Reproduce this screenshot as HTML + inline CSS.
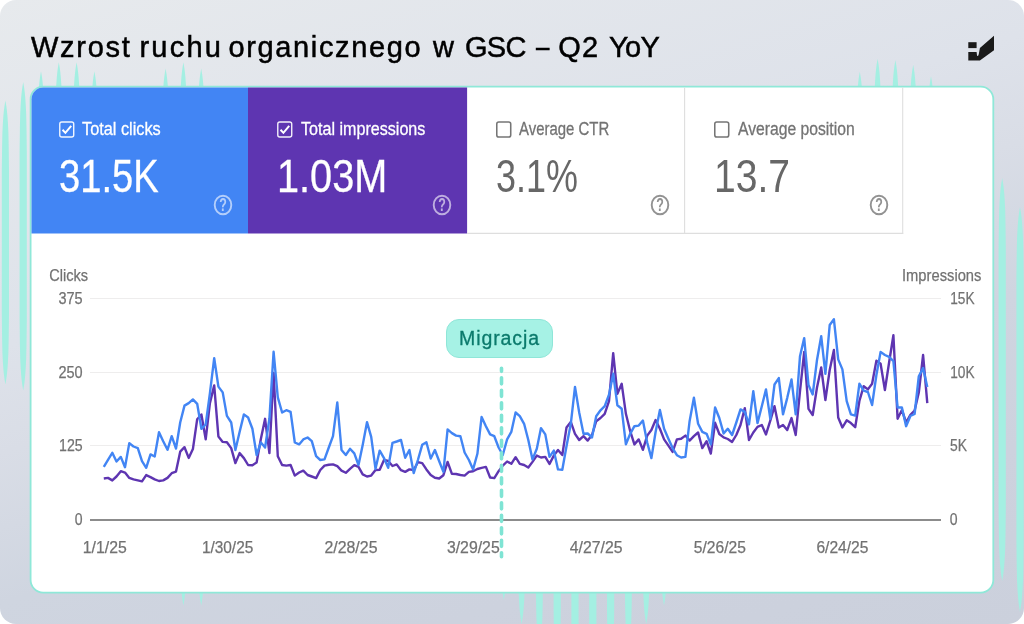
<!DOCTYPE html>
<html lang="pl">
<head>
<meta charset="utf-8">
<title>Wzrost ruchu organicznego w GSC – Q2 YoY</title>
<style>
html,body{margin:0;padding:0;background:#fff;}
body{width:1024px;height:624px;overflow:hidden;position:relative;font-family:"Liberation Sans",sans-serif;}
#page{position:absolute;left:0;top:0;width:1024px;height:624px;border-radius:16px;overflow:hidden;
  background:linear-gradient(163deg,#e7eaed 0%,#dee2ea 37%,#d9dde6 48.4%,#cfd5e0 64.4%,#cdd2de 81%,#cbd0dc 100%);}
#deco{position:absolute;left:0;top:0;width:1024px;height:624px;}
h1{position:absolute;left:0;top:30px;width:700px;height:34px;margin:0;font-weight:400;font-size:29px;line-height:34px;color:#000;white-space:nowrap;-webkit-text-stroke:.5px #000;}
h1 span{position:absolute;top:0;}
#logo{position:absolute;left:960px;top:30px;width:40px;height:36px;}
#card{position:absolute;left:31px;top:87px;width:962px;height:505px;}
.tile{position:absolute;top:0;height:146px;box-sizing:border-box;}
.tile .cb{position:absolute;top:34px;width:15.5px;height:17px;}
.tile .lbl{-webkit-text-stroke:.3px currentColor;position:absolute;top:31px;font-size:18.8px;line-height:22px;white-space:nowrap;transform-origin:0 50%;}
.tile .val{position:absolute;top:61.6px;font-size:46.9px;line-height:54px;white-space:nowrap;transform-origin:0 50%;}
.tile .help{position:absolute;top:105.6px;width:22px;height:24px;}
#t1{left:0;width:217px;color:#fff;}
#t2{left:217px;width:219px;color:#fff;}
#t3{left:436px;width:218px;color:#676767;}
#t4{left:654px;width:218px;color:#676767;}
#t3 .lbl,#t4 .lbl{color:#737373;}
#t1 .val,#t2 .val{-webkit-text-stroke:.3px #fff;}
#chart{position:absolute;left:0;top:0;width:1024px;height:624px;}
#chart text{font-family:"Liberation Sans",sans-serif;}
#mig{position:absolute;left:446px;top:319px;width:105px;height:37px;border:1px solid #8fe6d8;border-radius:13px;background:#a6f2e5;color:#0b7a6c;font-size:19.5px;line-height:37px;text-align:center;letter-spacing:.9px;padding-left:0;box-sizing:content-box;width:105px;-webkit-text-stroke:.3px #0b7a6c;}
</style>
</head>
<body>
<div id="page">
  <svg id="deco" viewBox="0 0 1024 624"><g id="spikes" fill="#a4efe2"><path d="M5.4 100.6L5.9 103.6L6.4 106.6L6.9 110.6L7.4 115.6L7.9 122.6L8.4 132.6L8.7 146.6L9 170.6L9 314.6L8.7 338.6L8.4 352.6L7.9 362.6L7.4 369.6L6.9 374.6L6.4 378.6L5.9 381.6L5.4 384.6L4.9 381.6L4.4 378.6L3.9 374.6L3.4 369.6L2.9 362.6L2.4 352.6L2.1 338.6L1.8 314.6L1.8 170.6L2.1 146.6L2.4 132.6L2.9 122.6L3.4 115.6L3.9 110.6L4.4 106.6L4.9 103.6L5.4 100.6ZM23.2 82L23.7 85L24.2 88L24.7 92L25.2 97L25.7 104L26.2 114L26.5 128L26.8 152L26.8 320.4L26.5 344.4L26.2 358.4L25.7 368.4L25.2 375.4L24.7 380.4L24.2 384.4L23.7 387.4L23.2 390.4L22.7 387.4L22.2 384.4L21.7 380.4L21.2 375.4L20.7 368.4L20.2 358.4L19.9 344.4L19.6 320.4L19.6 152L19.9 128L20.2 114L20.7 104L21.2 97L21.7 92L22.2 88L22.7 85L23.2 82ZM41 71.2L41.5 74.2L42 77.2L42.5 81.2L43 86.2L43.5 93.2L44 103.2L44.3 117.2L44.6 141.2L44.7 300L37.3 300L37.4 141.2L37.7 117.2L38 103.2L38.5 93.2L39 86.2L39.5 81.2L40 77.2L40.5 74.2L41 71.2ZM58.8 62.2L59.3 65.2L59.8 68.2L60.3 72.2L60.8 77.2L61.3 84.2L61.8 94.2L62.1 108.2L62.4 132.2L62.5 300L55.1 300L55.2 132.2L55.5 108.2L55.8 94.2L56.3 84.2L56.8 77.2L57.3 72.2L57.8 68.2L58.3 65.2L58.8 62.2ZM76.6 62.2L77.1 65.2L77.6 68.2L78.1 72.2L78.6 77.2L79.1 84.2L79.6 94.2L79.9 108.2L80.2 132.2L80.3 300L72.9 300L73 132.2L73.3 108.2L73.6 94.2L74.1 84.2L74.6 77.2L75.1 72.2L75.6 68.2L76.1 65.2L76.6 62.2ZM94.4 71.2L94.9 74.2L95.4 77.2L95.9 81.2L96.4 86.2L96.9 93.2L97.4 103.2L97.7 117.2L98 141.2L98.1 300L90.7 300L90.8 141.2L91.1 117.2L91.4 103.2L91.9 93.2L92.4 86.2L92.9 81.2L93.4 77.2L93.9 74.2L94.4 71.2ZM165.6 68.6L166.1 71.6L166.6 74.6L167.1 78.6L167.6 83.6L168.1 90.6L168.6 100.6L168.9 114.6L169.2 138.6L169.2 524.5L168.9 548.5L168.6 562.5L168.1 572.5L167.6 579.5L167.1 584.5L166.6 588.5L166.1 591.5L165.6 594.5L165.1 591.5L164.6 588.5L164.1 584.5L163.6 579.5L163.1 572.5L162.6 562.5L162.3 548.5L162 524.5L162 138.6L162.3 114.6L162.6 100.6L163.1 90.6L163.6 83.6L164.1 78.6L164.6 74.6L165.1 71.6L165.6 68.6ZM183.4 62.2L183.9 65.2L184.4 68.2L184.9 72.2L185.4 77.2L185.9 84.2L186.4 94.2L186.7 108.2L187 132.2L187 535.5L186.7 559.5L186.4 573.5L185.9 583.5L185.4 590.5L184.9 595.5L184.4 599.5L183.9 602.5L183.4 605.5L182.9 602.5L182.4 599.5L181.9 595.5L181.4 590.5L180.9 583.5L180.4 573.5L180.1 559.5L179.8 535.5L179.8 132.2L180.1 108.2L180.4 94.2L180.9 84.2L181.4 77.2L181.9 72.2L182.4 68.2L182.9 65.2L183.4 62.2ZM201.2 68.6L201.7 71.6L202.2 74.6L202.7 78.6L203.2 83.6L203.7 90.6L204.2 100.6L204.5 114.6L204.8 138.6L204.8 535.5L204.5 559.5L204.2 573.5L203.7 583.5L203.2 590.5L202.7 595.5L202.2 599.5L201.7 602.5L201.2 605.5L200.7 602.5L200.2 599.5L199.7 595.5L199.2 590.5L198.7 583.5L198.2 573.5L197.9 559.5L197.6 535.5L197.6 138.6L197.9 114.6L198.2 100.6L198.7 90.6L199.2 83.6L199.7 78.6L200.2 74.6L200.7 71.6L201.2 68.6ZM222.7 300L222.6 524.5L222.3 548.5L222 562.5L221.5 572.5L221 579.5L220.5 584.5L220 588.5L219.5 591.5L219 594.5L218.5 591.5L218 588.5L217.5 584.5L217 579.5L216.5 572.5L216 562.5L215.7 548.5L215.4 524.5L215.3 300ZM507.5 300L507.4 530L507.1 554L506.8 568L506.3 578L505.8 585L505.3 590L504.8 594L504.3 597L503.8 600L503.3 597L502.8 594L502.3 590L501.8 585L501.3 578L500.8 568L500.5 554L500.2 530L500.1 300ZM525.3 300L525.2 554L524.9 578L524.6 592L524.1 602L523.6 609L523.1 614L522.6 618L522.1 621L521.6 624L521.1 621L520.6 618L520.1 614L519.6 609L519.1 602L518.6 592L518.3 578L518 554L517.9 300ZM543.1 300L543 580L542.7 604L542.4 618L541.9 628L541.4 635L540.9 640L540.4 644L539.9 647L539.4 650L538.9 647L538.4 644L537.9 640L537.4 635L536.9 628L536.4 618L536.1 604L535.8 580L535.7 300ZM560.9 300L560.8 610L560.5 634L560.2 648L559.7 658L559.2 665L558.7 670L558.2 674L557.7 677L557.2 680L556.7 677L556.2 674L555.7 670L555.2 665L554.7 658L554.2 648L553.9 634L553.6 610L553.5 300ZM578.7 300L578.6 630L578.3 654L578 668L577.5 678L577 685L576.5 690L576 694L575.5 697L575 700L574.5 697L574 694L573.5 690L573 685L572.5 678L572 668L571.7 654L571.4 630L571.3 300ZM596.5 300L596.4 630L596.1 654L595.8 668L595.3 678L594.8 685L594.3 690L593.8 694L593.3 697L592.8 700L592.3 697L591.8 694L591.3 690L590.8 685L590.3 678L589.8 668L589.5 654L589.2 630L589.1 300ZM614.3 300L614.2 610L613.9 634L613.6 648L613.1 658L612.6 665L612.1 670L611.6 674L611.1 677L610.6 680L610.1 677L609.6 674L609.1 670L608.6 665L608.1 658L607.6 648L607.3 634L607 610L606.9 300ZM632.1 300L632 580L631.7 604L631.4 618L630.9 628L630.4 635L629.9 640L629.4 644L628.9 647L628.4 650L627.9 647L627.4 644L626.9 640L626.4 635L625.9 628L625.4 618L625.1 604L624.8 580L624.7 300ZM649.9 300L649.8 554L649.5 578L649.2 592L648.7 602L648.2 609L647.7 614L647.2 618L646.7 621L646.2 624L645.7 621L645.2 618L644.7 614L644.2 609L643.7 602L643.2 592L642.9 578L642.6 554L642.5 300ZM667.7 300L667.6 535.5L667.3 559.5L667 573.5L666.5 583.5L666 590.5L665.5 595.5L665 599.5L664.5 602.5L664 605.5L663.5 602.5L663 599.5L662.5 595.5L662 590.5L661.5 583.5L661 573.5L660.7 559.5L660.4 535.5L660.3 300ZM859.8 71.8L860.3 74.8L860.8 77.8L861.3 81.8L861.8 86.8L862.3 93.8L862.8 103.8L863.1 117.8L863.4 141.8L863.5 300L856.1 300L856.2 141.8L856.5 117.8L856.8 103.8L857.3 93.8L857.8 86.8L858.3 81.8L858.8 77.8L859.3 74.8L859.8 71.8ZM877.6 58.7L878.1 61.7L878.6 64.7L879.1 68.7L879.6 73.7L880.1 80.7L880.6 90.7L880.9 104.7L881.2 128.7L881.3 300L873.9 300L874 128.7L874.3 104.7L874.6 90.7L875.1 80.7L875.6 73.7L876.1 68.7L876.6 64.7L877.1 61.7L877.6 58.7ZM895.4 60L895.9 63L896.4 66L896.9 70L897.4 75L897.9 82L898.4 92L898.7 106L899 130L899.1 300L891.7 300L891.8 130L892.1 106L892.4 92L892.9 82L893.4 75L893.9 70L894.4 66L894.9 63L895.4 60ZM913.2 64.7L913.7 67.7L914.2 70.7L914.7 74.7L915.2 79.7L915.7 86.7L916.2 96.7L916.5 110.7L916.8 134.7L916.9 300L909.5 300L909.6 134.7L909.9 110.7L910.2 96.7L910.7 86.7L911.2 79.7L911.7 74.7L912.2 70.7L912.7 67.7L913.2 64.7ZM931 76.3L931.5 79.3L932 82.3L932.5 86.3L933 91.3L933.5 98.3L934 108.3L934.3 122.3L934.6 146.3L934.7 300L927.3 300L927.4 146.3L927.7 122.3L928 108.3L928.5 98.3L929 91.3L929.5 86.3L930 82.3L930.5 79.3L931 76.3ZM1002.2 178L1002.7 181L1003.2 184L1003.7 188L1004.2 193L1004.7 200L1005.2 210L1005.5 224L1005.8 248L1005.8 511L1005.5 535L1005.2 549L1004.7 559L1004.2 566L1003.7 571L1003.2 575L1002.7 578L1002.2 581L1001.7 578L1001.2 575L1000.7 571L1000.2 566L999.7 559L999.2 549L998.9 535L998.6 511L998.6 248L998.9 224L999.2 210L999.7 200L1000.2 193L1000.7 188L1001.2 184L1001.7 181L1002.2 178ZM1020 207L1020.5 210L1021 213L1021.5 217L1022 222L1022.5 229L1023 239L1023.3 253L1023.6 277L1023.6 542L1023.3 566L1023 580L1022.5 590L1022 597L1021.5 602L1021 606L1020.5 609L1020 612L1019.5 609L1019 606L1018.5 602L1018 597L1017.5 590L1017 580L1016.7 566L1016.4 542L1016.4 277L1016.7 253L1017 239L1017.5 229L1018 222L1018.5 217L1019 213L1019.5 210L1020 207Z"/></g>
    <rect x="30.6" y="86.6" width="962.7" height="506.05" rx="12.6" fill="#fff" stroke="#8fe8d8" stroke-width="1.8"/>
    <path d="M31.5 233.5V99.2A11.7 11.7 0 0 1 43.2 87.5H248V233.5Z" fill="#4285f4"/>
    <rect x="248" y="87.5" width="219.1" height="146" fill="#5e35b1"/>
    <g fill="none" stroke="#dedede" stroke-width="1.1">
      <path d="M467.1 233.4H903.2"/>
      <path d="M684.6 87.5V233.9"/>
      <path d="M902.7 87.5V233.9"/>
    </g>
  </svg>
  <h1><span style="left:31.0px;letter-spacing:1.70px;">Wzrost</span> <span style="left:139.4px;letter-spacing:2.25px;">ruchu</span> <span style="left:228.6px;letter-spacing:1.62px;">organicznego</span> <span style="left:433.0px;letter-spacing:0.00px;">w</span> <span style="left:465.0px;letter-spacing:-0.75px;">GSC</span> <span style="left:536.0px;letter-spacing:0.00px;transform:scaleX(.83);transform-origin:0 50%;">–</span> <span style="left:558.2px;letter-spacing:1.20px;">Q2</span> <span style="left:608.9px;letter-spacing:-0.60px;">YoY</span></h1>
  <svg id="logo" viewBox="960 30 40 36">
    <rect x="968.3" y="42.2" width="8.3" height="5.9" fill="#1a1a1a"/>
    <path d="M968.3 52.1H976.6L977 55.2Q978 57.5 978.8 54L979.9 48.1L994 35.7V50.3L979.9 60.5H968.3Z" fill="#1a1a1a"/>
  </svg>
  <div id="card">
    <div class="tile" id="t1">
      <svg class="cb" style="left:28px" viewBox="0 0 15 16"><rect x="0.75" y="0.75" width="13.5" height="14.5" rx="2" fill="none" stroke="#fff" stroke-opacity=".92" stroke-width="1.35"/><path d="M3.4 8.2L6.2 11.2L11.8 4.4" fill="none" stroke="#fff" stroke-width="1.9"/></svg>
      <span class="lbl" style="left:51px;transform:scaleX(.867)">Total clicks</span>
      <span class="val" style="left:28px;transform:scaleX(.813)">31.5K</span>
      <svg class="help" style="left:180.6px" viewBox="0 0 22 24"><ellipse cx="11" cy="12" rx="8.3" ry="9.3" fill="none" stroke="#fff" stroke-opacity=".6" stroke-width="1.9"/><text x="11" y="18.2" text-anchor="middle" font-size="18" font-weight="700" fill="#fff" fill-opacity=".6" font-family="Liberation Sans, sans-serif" textLength="7.6" lengthAdjust="spacingAndGlyphs">?</text></svg>
    </div>
    <div class="tile" id="t2">
      <svg class="cb" style="left:29px" viewBox="0 0 15 16"><rect x="0.75" y="0.75" width="13.5" height="14.5" rx="2" fill="none" stroke="#fff" stroke-opacity=".92" stroke-width="1.35"/><path d="M3.4 8.2L6.2 11.2L11.8 4.4" fill="none" stroke="#fff" stroke-width="1.9"/></svg>
      <span class="lbl" style="left:53px;transform:scaleX(.857)">Total impressions</span>
      <span class="val" style="left:29px;transform:scaleX(.846)">1.03M</span>
      <svg class="help" style="left:182.5px" viewBox="0 0 22 24"><ellipse cx="11" cy="12" rx="8.3" ry="9.3" fill="none" stroke="#fff" stroke-opacity=".6" stroke-width="1.9"/><text x="11" y="18.2" text-anchor="middle" font-size="18" font-weight="700" fill="#fff" fill-opacity=".6" font-family="Liberation Sans, sans-serif" textLength="7.6" lengthAdjust="spacingAndGlyphs">?</text></svg>
    </div>
    <div class="tile" id="t3">
      <svg class="cb" style="left:29px" viewBox="0 0 15 16"><rect x="0.75" y="0.75" width="13.5" height="14.5" rx="2" fill="none" stroke="#757575" stroke-width="1.5"/></svg>
      <span class="lbl" style="left:52px;transform:scaleX(.795)">Average CTR</span>
      <span class="val" style="left:29px;transform:scaleX(.767)">3.1%</span>
      <svg class="help" style="left:182.0px" viewBox="0 0 22 24"><ellipse cx="11" cy="12" rx="8.3" ry="9.3" fill="none" stroke="#929292" stroke-opacity="1" stroke-width="1.9"/><text x="11" y="18.2" text-anchor="middle" font-size="18" font-weight="700" fill="#929292" fill-opacity="1" font-family="Liberation Sans, sans-serif" textLength="7.6" lengthAdjust="spacingAndGlyphs">?</text></svg>
    </div>
    <div class="tile" id="t4">
      <svg class="cb" style="left:29px" viewBox="0 0 15 16"><rect x="0.75" y="0.75" width="13.5" height="14.5" rx="2" fill="none" stroke="#757575" stroke-width="1.5"/></svg>
      <span class="lbl" style="left:53px;transform:scaleX(.836)">Average position</span>
      <span class="val" style="left:29px;transform:scaleX(.833)">13.7</span>
      <svg class="help" style="left:182.5px" viewBox="0 0 22 24"><ellipse cx="11" cy="12" rx="8.3" ry="9.3" fill="none" stroke="#929292" stroke-opacity="1" stroke-width="1.9"/><text x="11" y="18.2" text-anchor="middle" font-size="18" font-weight="700" fill="#929292" fill-opacity="1" font-family="Liberation Sans, sans-serif" textLength="7.6" lengthAdjust="spacingAndGlyphs">?</text></svg>
    </div>
  </div>
  <svg id="chart" viewBox="0 0 1024 624">
    <g stroke="#eeeded" stroke-width="1">
      <line x1="90" y1="298.5" x2="941" y2="298.5"/>
      <line x1="90" y1="372.5" x2="941" y2="372.5"/>
      <line x1="90" y1="445.5" x2="941" y2="445.5"/>
    </g>
    <line x1="90" y1="520" x2="941" y2="520" stroke="#8c8c8c" stroke-width="2"/>
    <g fill="#727272" stroke="#727272" stroke-width=".25" font-size="17">
      <text x="49.2" y="281" textLength="38.9" lengthAdjust="spacingAndGlyphs">Clicks</text>
      <text x="58.4" y="303.9" textLength="24.2" lengthAdjust="spacingAndGlyphs">375</text>
      <text x="58.4" y="377.7" textLength="24.2" lengthAdjust="spacingAndGlyphs">250</text>
      <text x="59.1" y="451.2" textLength="23.6" lengthAdjust="spacingAndGlyphs">125</text>
      <text x="74.8" y="525.2" textLength="7.8" lengthAdjust="spacingAndGlyphs">0</text>
      <text x="902" y="281" textLength="79.4" lengthAdjust="spacingAndGlyphs">Impressions</text>
      <text x="950.2" y="303.9" textLength="24.4" lengthAdjust="spacingAndGlyphs">15K</text>
      <text x="950.2" y="377.7" textLength="24.4" lengthAdjust="spacingAndGlyphs">10K</text>
      <text x="950" y="451.2" textLength="17" lengthAdjust="spacingAndGlyphs">5K</text>
      <text x="949.8" y="525.2" textLength="7.8" lengthAdjust="spacingAndGlyphs">0</text>
      <text x="82.8" y="553.4" textLength="43.9" lengthAdjust="spacingAndGlyphs">1/1/25</text>
      <text x="201.9" y="553.4" textLength="51.4" lengthAdjust="spacingAndGlyphs">1/30/25</text>
      <text x="324.4" y="553.4" textLength="53.1" lengthAdjust="spacingAndGlyphs">2/28/25</text>
      <text x="446.9" y="553.4" textLength="52.8" lengthAdjust="spacingAndGlyphs">3/29/25</text>
      <text x="569.8" y="553.4" textLength="52.7" lengthAdjust="spacingAndGlyphs">4/27/25</text>
      <text x="693.8" y="553.4" textLength="52.1" lengthAdjust="spacingAndGlyphs">5/26/25</text>
      <text x="816.4" y="553.4" textLength="52.1" lengthAdjust="spacingAndGlyphs">6/24/25</text>
    </g>
    <polyline id="imp" fill="none" stroke="#5e35b1" stroke-width="2.4" stroke-linejoin="round" points="103.8,478.5 108.0,477.9 112.3,480.4 116.5,476.5 120.8,471.2 125.0,472.6 129.3,477.9 133.5,479.4 137.8,480.4 142.0,481.4 146.2,475.1 150.5,477.1 154.7,479.4 159.0,481.0 163.2,480.4 167.5,477.9 171.7,473.2 176.0,471.6 180.2,451.7 184.5,447.2 188.7,457.9 192.9,449.1 197.2,419.2 201.4,414.5 205.7,439.4 209.9,403.2 214.2,385.4 218.4,436.4 222.7,441.9 226.9,442.3 231.2,448.1 235.4,463.1 239.6,453.1 243.9,458.1 248.1,465.0 252.4,465.2 256.6,462.5 260.9,438.8 265.1,418.8 269.4,453.1 273.6,373.0 277.8,456.2 282.1,465.0 286.3,465.6 290.6,465.0 294.8,475.6 299.1,472.5 303.3,470.6 307.6,475.0 311.8,476.5 316.1,478.1 320.3,470.0 324.5,465.6 328.8,464.8 333.0,464.4 337.3,466.2 341.5,470.6 345.8,472.8 350.0,468.8 354.3,465.1 358.5,466.9 362.7,474.4 367.0,476.5 371.2,475.6 375.5,470.0 379.7,469.8 384.0,460.0 388.2,461.0 392.5,466.0 396.7,464.4 401.0,470.2 405.2,471.9 409.4,469.4 413.7,470.0 417.9,462.2 422.2,463.1 426.4,469.4 430.7,475.0 434.9,477.8 439.2,478.5 443.4,475.2 447.6,461.9 451.9,473.8 456.1,474.0 460.4,475.0 464.6,475.6 468.9,471.9 473.1,471.2 477.4,469.0 481.6,467.8 485.9,466.9 490.1,477.5 494.3,478.1 498.6,471.2 502.8,465.6 507.1,461.5 511.3,463.8 515.6,457.2 519.8,463.8 524.1,465.0 528.3,467.5 532.5,461.9 536.8,455.6 541.0,457.5 545.3,456.9 549.5,464.0 553.8,455.6 558.0,450.0 562.3,455.0 566.5,427.5 570.8,421.9 575.0,433.8 579.2,440.0 583.5,436.2 587.7,440.6 592.0,435.0 596.2,421.2 600.5,418.0 604.7,413.8 609.0,401.2 613.2,353.2 617.4,393.8 621.7,383.8 625.9,413.8 630.2,431.2 634.4,444.4 638.7,439.4 642.9,449.8 647.2,435.6 651.4,430.0 655.6,420.0 659.9,428.8 664.1,439.4 668.4,445.6 672.6,451.9 676.9,439.4 681.1,438.8 685.4,435.6 689.6,440.6 693.9,436.2 698.1,432.5 702.3,448.1 706.6,441.2 710.8,453.5 715.1,422.8 719.3,434.0 723.6,437.4 727.8,439.0 732.1,441.9 736.3,435.0 740.5,425.0 744.8,408.1 749.0,440.0 753.3,432.5 757.5,426.9 761.8,425.0 766.0,434.4 770.3,420.6 774.5,406.2 778.8,427.5 783.0,425.0 787.2,430.0 791.5,418.1 795.7,435.0 800.0,391.2 804.2,352.0 808.5,408.8 812.7,415.0 817.0,387.5 821.2,367.5 825.4,400.0 829.7,370.0 833.9,350.0 838.2,417.5 842.4,427.5 846.7,420.3 850.9,423.1 855.2,427.2 859.4,401.0 863.7,386.2 867.9,389.4 872.1,383.8 876.4,360.6 880.6,363.8 884.9,390.0 889.1,362.5 893.4,335.3 897.6,418.8 901.9,410.0 906.1,422.5 910.4,414.8 914.6,410.6 918.8,392.5 923.1,355.0 927.3,403.1"/>
    <polyline id="clk" fill="none" stroke="#4285f4" stroke-width="2.4" stroke-linejoin="round" points="103.8,466.9 108.0,459.8 112.3,452.8 116.5,461.5 120.8,456.9 125.0,467.2 129.3,443.1 133.5,446.5 137.8,448.1 142.0,461.2 146.2,467.8 150.5,454.4 154.7,456.5 159.0,432.2 163.2,441.2 167.5,449.8 171.7,436.2 176.0,448.5 180.2,422.5 184.5,405.6 188.7,403.1 192.9,399.4 197.2,403.8 201.4,428.8 205.7,424.5 209.9,393.4 214.2,358.2 218.4,386.6 222.7,392.4 226.9,415.9 231.2,422.5 235.4,450.0 239.6,431.9 243.9,414.4 248.1,417.5 252.4,428.8 256.6,455.0 260.9,442.5 265.1,447.5 269.4,418.8 273.6,351.8 277.8,397.3 282.1,412.5 286.3,410.2 290.6,411.9 294.8,442.5 299.1,444.4 303.3,439.4 307.6,437.5 311.8,441.2 316.1,456.2 320.3,460.0 324.5,459.4 328.8,447.5 333.0,436.2 337.3,402.5 341.5,450.0 345.8,455.0 350.0,448.8 354.3,453.4 358.5,465.0 362.7,445.0 367.0,422.2 371.2,436.9 375.5,468.8 379.7,450.6 384.0,458.1 388.2,467.8 392.5,442.8 396.7,441.5 401.0,440.0 405.2,457.8 409.4,450.0 413.7,473.1 417.9,460.0 422.2,444.8 426.4,442.2 430.7,458.5 434.9,450.0 439.2,461.2 443.4,471.9 447.6,429.4 451.9,433.1 456.1,435.6 460.4,436.2 464.6,452.5 468.9,460.0 473.1,469.4 477.4,453.8 481.6,416.9 485.9,426.2 490.1,434.4 494.3,436.2 498.6,447.5 502.8,455.0 507.1,439.4 511.3,431.9 515.6,412.5 519.8,416.2 524.1,423.8 528.3,440.0 532.5,459.4 536.8,448.8 541.0,428.1 545.3,434.4 549.5,456.9 553.8,450.6 558.0,469.4 562.3,469.8 566.5,446.2 570.8,423.8 575.0,386.9 579.2,412.5 583.5,433.8 587.7,433.5 592.0,437.5 596.2,416.2 600.5,410.3 604.7,406.2 609.0,394.7 613.2,373.8 617.4,405.3 621.7,408.8 625.9,444.4 630.2,433.8 634.4,426.2 638.7,425.6 642.9,420.6 647.2,442.5 651.4,458.1 655.6,432.0 659.9,410.0 664.1,428.8 668.4,438.8 672.6,448.1 676.9,455.2 681.1,457.5 685.4,456.9 689.6,421.2 693.9,397.8 698.1,423.8 702.3,431.9 706.6,433.8 710.8,444.4 715.1,407.5 719.3,418.0 723.6,433.4 727.8,428.8 732.1,435.0 736.3,422.5 740.5,409.4 744.8,411.9 749.0,424.4 753.3,391.2 757.5,423.1 761.8,406.2 766.0,389.4 770.3,418.8 774.5,384.5 778.8,378.1 783.0,414.4 787.2,398.1 791.5,379.4 795.7,414.4 800.0,356.2 804.2,338.1 808.5,385.0 812.7,394.4 817.0,360.0 821.2,336.2 825.4,373.8 829.7,325.0 833.9,319.3 838.2,359.4 842.4,369.4 846.7,401.2 850.9,414.4 855.2,415.6 859.4,383.6 863.7,390.6 867.9,392.0 872.1,405.0 876.4,375.0 880.6,351.9 884.9,355.0 889.1,356.9 893.4,361.2 897.6,407.5 901.9,407.5 906.1,426.2 910.4,416.0 914.6,414.0 918.8,376.2 923.1,368.1 927.3,386.9"/>
    <line x1="501.5" y1="368.2" x2="501.5" y2="556.8" stroke="#7fe4d4" stroke-width="3.6" stroke-linecap="round" stroke-dasharray="6.1 6.4" stroke-dashoffset="2.95"/>
  </svg>
  <div id="mig">Migracja</div>
</div>
</body>
</html>
